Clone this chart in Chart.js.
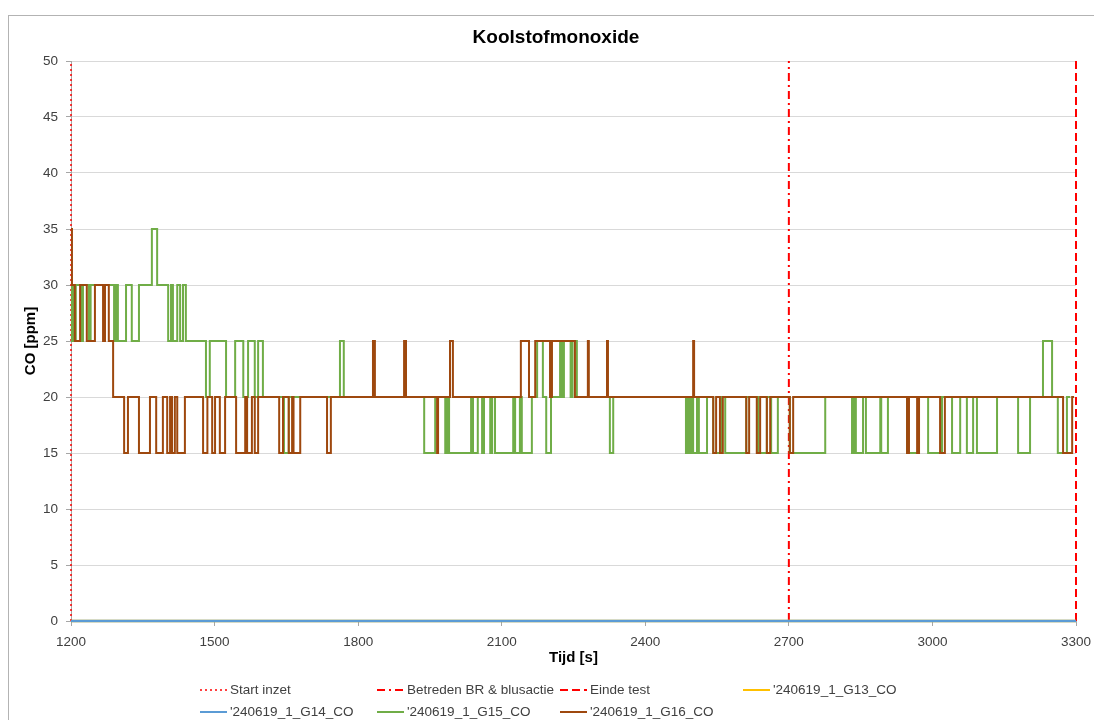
<!DOCTYPE html>
<html>
<head>
<meta charset="utf-8">
<title>Koolstofmonoxide</title>
<script src="https://cdn.jsdelivr.net/npm/chart.js@4.4.1/dist/chart.umd.min.js"></script>
<style>
  body { margin: 0; background: #fff; font-family: 'Liberation Sans', Arial, sans-serif; }
  #wrap { position: relative; width: 1094px; height: 720px; overflow: hidden; }
  #frame { position: absolute; left: 8px; top: 15px; width: 1200px; height: 800px;
           border-left: 1px solid #b3b3b3; border-top: 1px solid #b3b3b3; }
  #title { position: absolute; left: 0; top: 26px; width: 1112px; text-align: center;
           font-weight: bold; font-size: 19px; line-height: 22px; color: #000; }
  canvas { position: absolute; left: 0; top: 0; }
  .legend-item { position: absolute; height: 16px; font-size: 13.5px; line-height: 16px;
                 color: #404040; white-space: nowrap; }
  .legend-item svg { vertical-align: top; margin-right: 3px; }
</style>
</head>
<body>
<div id="wrap">
  <div id="frame"></div>
  <canvas id="coChart" width="1094" height="720"></canvas>
  <div id="title">Koolstofmonoxide</div>
  <div id="legend"></div>
</div>
<script>
// axis ranges
const xMin = 1200, xMax = 3300, xStep = 300;
const yMin = 0, yMax = 50, yStep = 5;

// event markers (time in s)
const startInzet = 1200;
const betredenBR = 2700;
const eindeTest = 3300;

// G13 / G14 stay at 0 ppm
const g13Time = [1200, 3300];
const g13Co = [0, 0];
const g14Time = [1200, 3300];
const g14Co = [0, 0];

// G15: times where the reading changes, and the new reading
const g15Time = [1200, 1202, 1206, 1210, 1221, 1225, 1237, 1241, 1290, 1294, 1298, 1315, 1327, 1342,
  1369, 1380, 1403, 1409, 1413, 1422, 1428, 1434, 1440, 1482, 1490, 1524, 1543, 1560, 1570, 1584,
  1591, 1601, 1645, 1655, 1762, 1770, 1938, 1961, 1982, 1986, 1990, 2036, 2040, 2050, 2059, 2063,
  2076, 2080, 2086, 2124, 2128, 2138, 2142, 2163, 2174, 2186, 2193, 2203, 2222, 2226, 2230, 2244,
  2248, 2257, 2326, 2333, 2485, 2488, 2492, 2496, 2500, 2508, 2512, 2529, 2542, 2560, 2567, 2611,
  2636, 2654, 2663, 2677, 2702, 2776, 2832, 2836, 2840, 2855, 2861, 2891, 2893, 2907, 2947, 2970,
  2991, 3020, 3041, 3058, 3072, 3085, 3093, 3135, 3179, 3204, 3231, 3250, 3262, 3281, 3288];
const g15Co = [25, 30, 25, 30, 25, 30, 25, 30, 25, 30, 25, 30, 25, 30,
  35, 30, 25, 30, 25, 30, 25, 30, 25, 20, 25, 20, 25, 20, 25, 20,
  25, 20, 15, 20, 25, 20, 15, 20, 15, 20, 15, 20, 15, 20, 15, 20,
  15, 20, 15, 20, 15, 20, 15, 20, 25, 20, 15, 20, 25, 20, 25, 20,
  25, 20, 15, 20, 15, 20, 15, 20, 15, 20, 15, 20, 15, 20, 15, 20,
  15, 20, 15, 20, 15, 20, 15, 20, 15, 20, 15, 20, 15, 20, 15, 20,
  15, 20, 15, 20, 15, 20, 15, 20, 15, 20, 25, 20, 15, 20, 20];

// G16
const g16Time = [1200, 1202, 1208, 1219, 1233, 1250, 1267, 1271, 1279, 1288, 1311, 1319, 1342, 1365,
  1378, 1392, 1401, 1407, 1411, 1417, 1422, 1438, 1476, 1485, 1495, 1501, 1511, 1522, 1545, 1564,
  1568, 1578, 1584, 1591, 1635, 1643, 1655, 1662, 1665, 1679, 1735, 1743, 1831, 1835, 1896, 1900,
  1965, 1967, 1992, 1998, 2140, 2157, 2170, 2201, 2205, 2253, 2280, 2282, 2320, 2322, 2500, 2502,
  2542, 2548, 2556, 2562, 2611, 2617, 2633, 2640, 2654, 2661, 2702, 2709, 2947, 2951, 2968, 2972,
  3016, 3026, 3273, 3292, 3296];
const g16Co = [35, 30, 25, 30, 25, 30, 25, 30, 25, 20, 15, 20, 15, 20,
  15, 20, 15, 20, 15, 20, 15, 20, 15, 20, 15, 20, 15, 20, 15, 20,
  15, 20, 15, 20, 15, 20, 15, 20, 15, 20, 15, 20, 25, 20, 25, 20,
  15, 20, 25, 20, 25, 20, 25, 20, 25, 20, 25, 20, 25, 20, 25, 20,
  15, 20, 15, 20, 15, 20, 15, 20, 15, 20, 15, 20, 15, 20, 15, 20,
  15, 20, 15, 20, 20];

const pts = (ts, vs) => ts.map((t, i) => ({ x: t, y: vs[i] }));
const vline = t => [{ x: t, y: yMin }, { x: t, y: yMax }];

const red = '#FF0000';
const series = [
  { label: 'Start inzet', data: vline(startInzet), borderColor: red, borderWidth: 1.5, borderDash: [2, 3], order: 6 },
  { label: 'Betreden BR & blusactie', data: vline(betredenBR), borderColor: red, borderWidth: 2, borderDash: [8, 4, 2, 4], order: 5 },
  { label: 'Einde test', data: vline(eindeTest), borderColor: red, borderWidth: 2, borderDash: [8, 4], order: 4 },
  { label: "'240619_1_G13_CO", data: pts(g13Time, g13Co), borderColor: '#FFC000', borderWidth: 2.5, order: 3 },
  { label: "'240619_1_G14_CO", data: pts(g14Time, g14Co), borderColor: '#5B9BD5', borderWidth: 2.5, order: 2 },
  { label: "'240619_1_G15_CO", data: pts(g15Time, g15Co), borderColor: '#70AD47', borderWidth: 2, stepped: true, order: 1 },
  { label: "'240619_1_G16_CO", data: pts(g16Time, g16Co), borderColor: '#9E480E', borderWidth: 2, stepped: true, order: 0 }
];
series.forEach(s => { s.pointRadius = 0; s.fill = false; s.clip = false; s.tension = 0; });

Chart.defaults.font.family = "'Liberation Sans', Arial, sans-serif";
Chart.defaults.font.size = 13.5;
Chart.defaults.color = '#404040';

new Chart(document.getElementById('coChart'), {
  type: 'line',
  data: { datasets: series },
  options: {
    responsive: false,
    animation: false,
    layout: { padding: { left: 8, right: 18, top: 61, bottom: 49 } },
    plugins: { legend: { display: false }, tooltip: { enabled: false } },
    scales: {
      x: {
        type: 'linear', min: xMin, max: xMax,
        afterFit: s => { s.height = 50; s.paddingLeft = 0; s.paddingRight = 0; },
        ticks: { stepSize: xStep, padding: 8, color: '#404040', callback: v => String(v) },
        grid: { drawOnChartArea: false, drawTicks: true, tickLength: 5, tickColor: '#a6a6a6' },
        border: { color: '#a6a6a6' },
        title: { display: true, text: 'Tijd [s]', color: '#000', font: { size: 15, weight: 'bold' }, padding: { top: 0, bottom: 4 } }
      },
      y: {
        min: yMin, max: yMax,
        afterFit: s => { s.width = 63; },
        ticks: { stepSize: yStep, padding: 8, color: '#404040' },
        grid: { color: '#d9d9d9', tickLength: 5, tickColor: '#a6a6a6' },
        border: { color: '#a6a6a6' },
        title: { display: true, text: 'CO [ppm]', color: '#000', font: { size: 15, weight: 'bold' }, padding: { top: 14, bottom: 0 } }
      }
    }
  }
});

// legend laid out in Excel-like columns
const legendCols = [200, 377, 560, 743];
const legendRows = [682, 704];
const legendBox = document.getElementById('legend');
series.forEach((s, i) => {
  const item = document.createElement('div');
  item.className = 'legend-item';
  item.style.left = legendCols[i % 4] + 'px';
  item.style.top = legendRows[Math.floor(i / 4)] + 'px';
  const dash = s.borderDash ? s.borderDash.join(',') : 'none';
  item.innerHTML = '<svg width="27" height="16"><line x1="0" y1="8" x2="27" y2="8" stroke="' + s.borderColor +
    '" stroke-width="' + Math.min(s.borderWidth, 2) + '" stroke-dasharray="' + dash + '"/></svg>';
  item.appendChild(document.createTextNode(s.label));
  legendBox.appendChild(item);
});
</script>
</body>
</html>
